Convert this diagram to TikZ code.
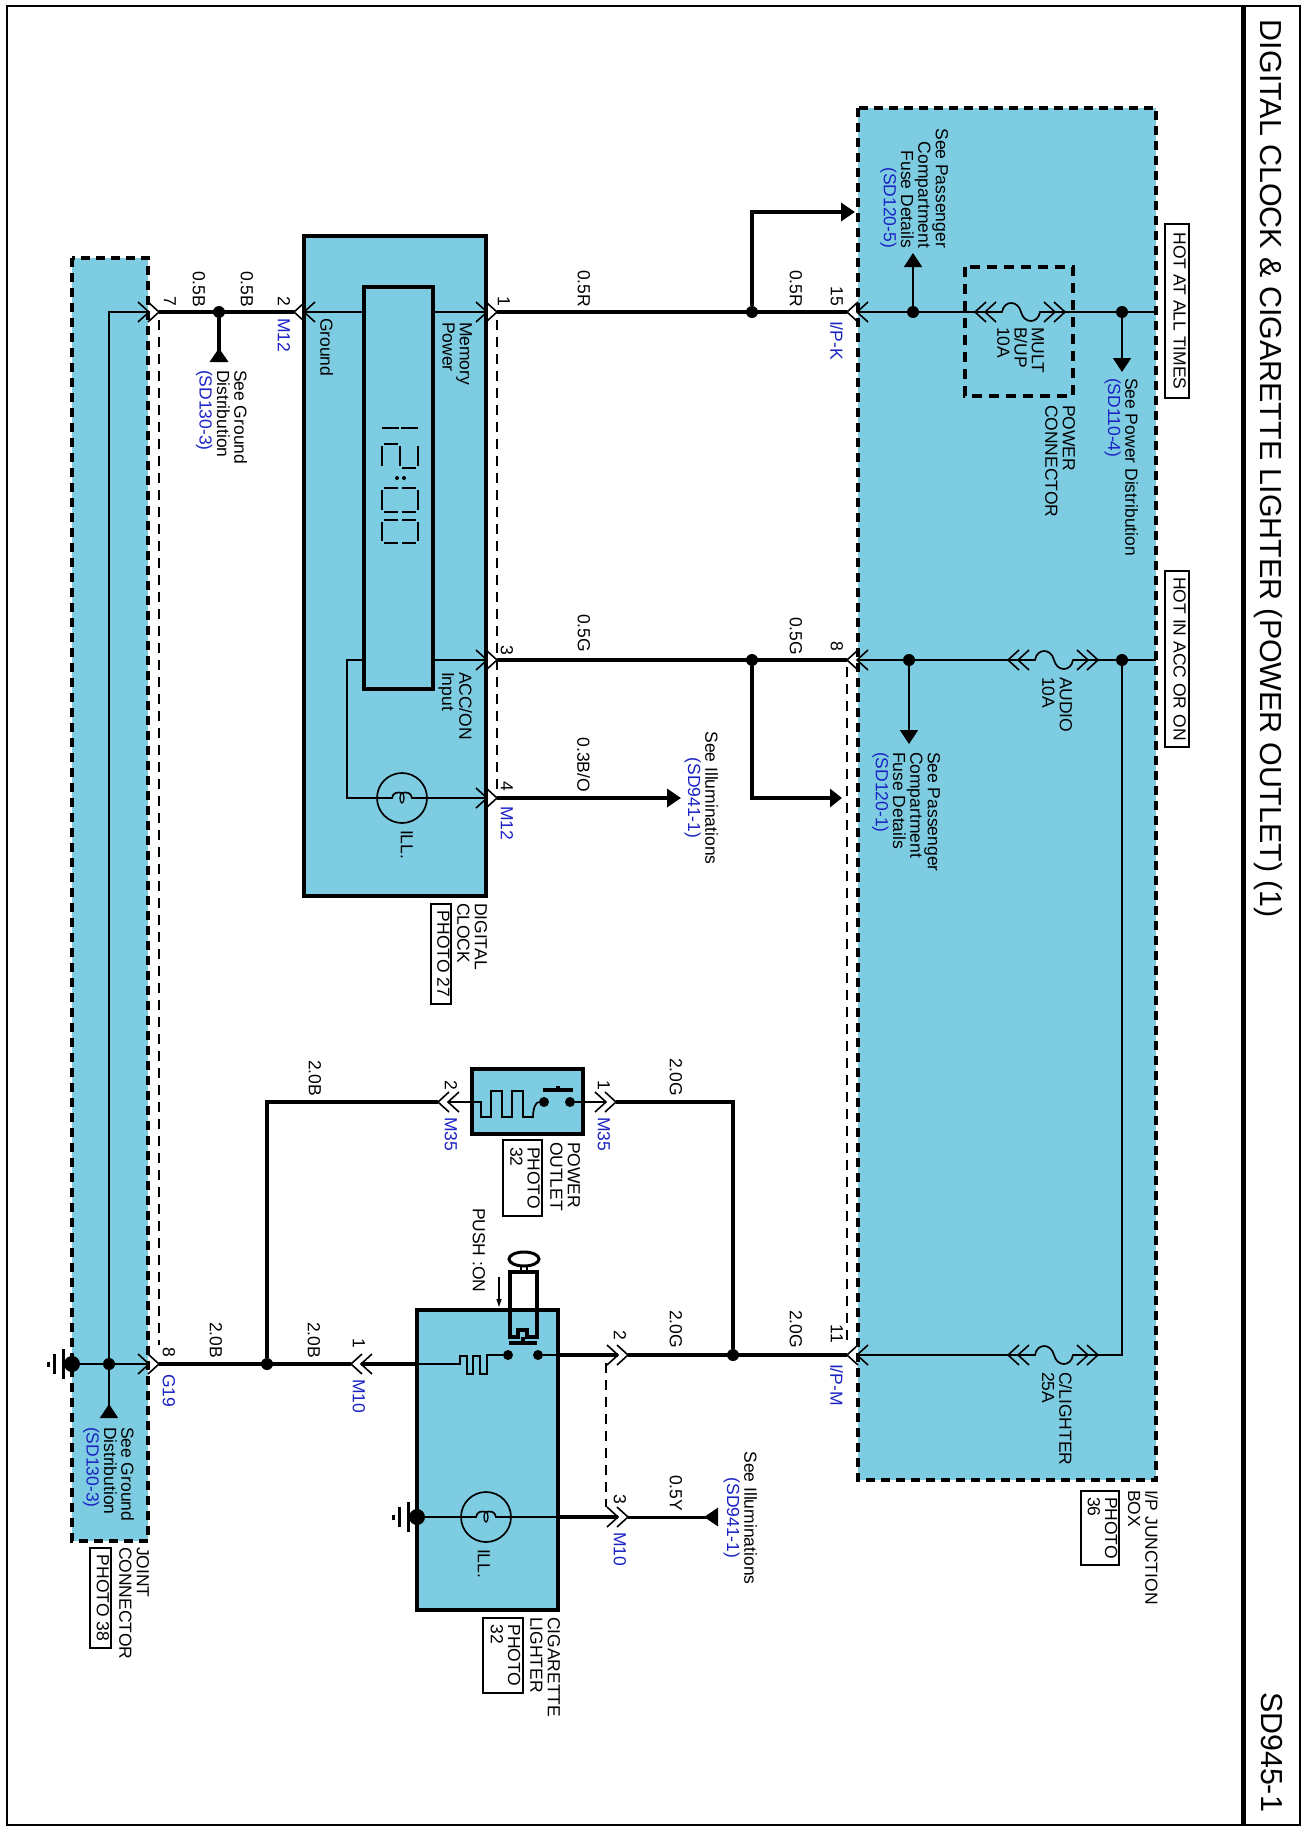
\documentclass[tikz,border=0pt]{standalone}
\usepackage{fontspec}
\setmainfont{Liberation Sans}
\usetikzlibrary{arrows.meta}

\definecolor{boxblue}{HTML}{7ECCE2}
\definecolor{refblue}{HTML}{1A22C4}
\newcommand{\sdref}[1]{\textcolor{refblue}{#1}}

\tikzset{
	wire/.style={line width=3.6pt},
	thinwire/.style={line width=1.7pt},
	pinline/.style={line width=1.6pt},
	pindash/.style={line width=1.5pt, dash pattern=on 10pt off 7pt},
	module/.style={fill=boxblue, draw=black, line width=3.3pt},
	dashmodule/.style={fill=boxblue},
	dashline/.style={draw=black, line width=3.4pt, dash pattern=on 9pt off 6pt},
	seg/.style={line width=2.4pt},
	plunger/.style={line width=3.4pt},
	hottip/.style={-{Triangle[length=14pt,width=18pt]}},
	backtip/.style={-{Triangle[reversed,length=14pt,width=18pt]}},
	jdot/.style={circle, fill=black, inner sep=0pt, minimum size=12pt},
	swdot/.style={circle, fill=black, inner sep=0pt, minimum size=10pt},
	gdot/.style={circle, fill=black, inner sep=0pt, minimum size=16pt},
	rlabel/.style={rotate=-90, inner sep=0pt, outer sep=0pt, anchor=north west, align=left,
		font=\fontsize{17.5}{17.3}\selectfont, execute at begin node=\strut},
	wirelabel/.style={rlabel, anchor=north east},
	connlabel/.style={rlabel, text=refblue},
	tagbox/.style={rlabel, draw=black, line width=1.3pt, anchor=center},
	pics/pinr/.style={code={
		\draw[pinline] (-11,-10) -- (0,0) -- (-11,10);
		\draw[pinline] (-21,-10) -- (-10,0) -- (-21,10);}},
	pics/pinl/.style={code={
		\draw[pinline] (11,-10) -- (0,0) -- (11,10);
		\draw[pinline] (21,-10) -- (10,0) -- (21,10);}},
	pics/fusebit/.style={code={
		\pic at (0,0) {pinl};
		\pic at (90,0) {pinr};
		\draw[thinwire] (0,0) -- (27,0) .. controls (29,-12) and (43,-12) .. (46,0)
			.. controls (49,12) and (63,12) .. (65,0) -- (90,0);}},
	pics/bulb/.style={code={
		\draw[thinwire] (0,0) circle (25);
		\draw[thinwire] (-25,0) -- (-10,0) .. controls (-9,-6) and (-4,-6) .. (0,-5)
			.. controls (4,-6) and (9,-6) .. (10,0) -- (25,0);
		\draw[line width=1.3pt] (0,0) ellipse (2 and 5);}},
	pics/gnd/.style={code={
		\draw[line width=3pt] (-9,-15) -- (-9,15);
		\draw[line width=3pt] (-18,-10) -- (-18,10);
		\draw[line width=3pt] (-24,-2.5) -- (-24,2.5);}},
}

\begin{document}
\begin{tikzpicture}[x=1pt,y=-1pt]
	\useasboundingbox (0,0) rectangle (1308,1833);
	\fill[white] (0,0) rectangle (1308,1833);

	% Page frame
	\draw[line width=2pt] (6.5,6) rectangle (1300,1825);
	\draw[line width=5pt] (1243,6) -- (1243,1825);
	\node[rlabel, font=\fontsize{30.4}{31}\selectfont] (title) at (1283,20) {DIGITAL CLOCK \& CIGARETTE LIGHTER (POWER OUTLET) (1)};
	\node[rlabel, anchor=north east, font=\fontsize{30.4}{31}\selectfont] (pageno) at (1283,1812) {SD945-1};

	% Module fills
	\fill[dashmodule] (858,108) rectangle (1156,1480);
	\fill[dashmodule] (72,258) rectangle (148,1541);
	\draw[module] (304,236) rectangle (486,896);
	\draw[module] (364,287) rectangle (433,689);
	\draw[module] (472,1069) rectangle (583,1134);
	\draw[module] (417,1310) rectangle (558,1610);

	% Named points
	\coordinate (pinJ7) at (159,312);
	\coordinate (pinK2) at (294,312);
	\coordinate (pinK1) at (497,312);
	\coordinate (pinK3) at (497,660);
	\coordinate (pinK4) at (497,798);
	\coordinate (pinIP15) at (847,312);
	\coordinate (pinIP8) at (847,660);
	\coordinate (pinIP11) at (847,1355);
	\coordinate (pinO2) at (438,1102);
	\coordinate (pinO1) at (616,1102);
	\coordinate (pinC1) at (351,1364);
	\coordinate (pinC2) at (628,1355);
	\coordinate (pinC3) at (628,1517);
	\coordinate (pinJ8) at (159,1364);
	\coordinate (fuseA) at (975,312);
	\coordinate (fuseAr) at (1065,312);
	\coordinate (fuseB) at (1008,660);
	\coordinate (fuseBr) at (1098,660);
	\coordinate (fuseC) at (1008,1355);
	\coordinate (fuseCr) at (1098,1355);
	\coordinate (hotA) at (1156,312);
	\coordinate (hotB) at (1156,660);
	\node[jdot] (jGnd) at (219,312) {};
	\node[jdot] (jR) at (752,312) {};
	\node[jdot] (jG) at (752,660) {};
	\node[jdot] (jPas15) at (913,312) {};
	\node[jdot] (jPas8) at (909,660) {};
	\node[jdot] (jHotA) at (1122,312) {};
	\node[jdot] (jHotB) at (1122,660) {};
	\node[jdot] (jLight) at (733,1355) {};
	\node[jdot] (jOut) at (267,1364) {};
	\node[jdot] (jBus) at (109,1364) {};
	\node[gdot] (gJoint) at (72,1364) {};
	\node[gdot] (gLight) at (417,1517) {};
	\node[swdot] (swO1) at (544,1102) {};
	\node[swdot] (swO2) at (570,1102) {};
	\node[swdot] (swC1) at (508,1355) {};
	\node[swdot] (swC2) at (538,1355) {};

	% Heavy wires
	\draw[wire] (pinJ7) -- (pinK2);
	\draw[wire] (pinK1) -- (pinIP15);
	\draw[wire] (pinK3) -- (pinIP8);
	\draw[wire, hottip] (pinK4) -- (681,798);
	\draw[wire, hottip] (jR) |- (855,212);
	\draw[wire, -{Triangle[length=12pt,width=18pt]}] (jG) |- (842,798);
	\draw[wire, backtip] (jGnd) -- (219,362);
	\draw[wire] (pinO2) -| (jOut);
	\draw[wire] (pinO1) -| (jLight);
	\draw[wire] (pinJ8) -- (pinC1);
	\draw[wire] ([xshift=10pt]pinC1) -- (417,1364);
	\draw[wire] (558,1355) -- ([xshift=-10pt]pinC2);
	\draw[wire] (pinC2) -- (pinIP11);
	\draw[wire] (558,1517) -- ([xshift=-10pt]pinC3);
	\draw[line width=3pt, backtip] (pinC3) -- (718,1517);

	% Thin wires inside the modules
	\draw[thinwire] ([xshift=-10pt]pinJ7) -- (109,312) -- (jBus);
	\draw[thinwire] (gJoint) -- ([xshift=-10pt]pinJ8);
	\draw[thinwire, backtip] (jBus) -- (109,1418);
	\draw[thinwire] ([xshift=10pt]pinK2) -- (364,312);
	\draw[thinwire] (433,312) -- ([xshift=-10pt]pinK1);
	\draw[thinwire] (433,660) -- ([xshift=-10pt]pinK3);
	\draw[thinwire] (364,660) -- (347,660) -- (347,798) -- (377,798);
	\draw[thinwire] (427,798) -- ([xshift=-10pt]pinK4);
	\draw[thinwire] ([xshift=10pt]pinIP15) -- (fuseA);
	\draw[thinwire] (fuseAr) -- (hotA);
	\draw[thinwire] ([xshift=10pt]pinIP8) -- (fuseB);
	\draw[thinwire] (fuseBr) -- (hotB);
	\draw[thinwire] ([xshift=10pt]pinIP11) -- (fuseC);
	\draw[thinwire] (jHotB) |- (fuseCr);
	\draw[thinwire, hottip] (jPas15) -- (913,253);
	\draw[thinwire, hottip] (jPas8) -- (909,744);
	\draw[thinwire, hottip] (jHotA) -- (1122,372);
	\draw[thinwire] ([xshift=10pt]pinO2) -- (472,1102) -- (481,1102) -- (481,1117) -- (491,1117) -- (491,1091) -- (502,1091) -- (502,1117)
		-- (512,1117) -- (512,1091) -- (523,1091) -- (523,1117) -- (533,1117) .. controls (533,1108) and (536,1102) .. (swO1);
	\draw[thinwire] (swO2) -- ([xshift=-10pt]pinO1);
	\draw[thinwire] (417,1364) -- (460,1364) -- (460,1356) -- (467,1356) -- (467,1374) -- (473,1374) -- (473,1356) -- (480,1356) -- (480,1374)
		-- (487,1374) -- (487,1355) -- (swC1);
	\draw[thinwire] (swC2) -- (558,1355);
	\draw[thinwire] (gLight) -- (461,1517);
	\draw[thinwire] (511,1517) -- (558,1517);

	% Connector pairs
	\foreach \pn in {pinJ7,pinK1,pinK3,pinK4,pinO1,pinC2,pinC3,pinJ8}
		\pic at (\pn) {pinr};
	\foreach \pn in {pinK2,pinIP15,pinIP8,pinIP11,pinO2,pinC1}
		\pic at (\pn) {pinl};

	% Fuses
	\pic at (fuseA) {fusebit};
	\pic at (fuseB) {fusebit};
	\pic at (fuseC) {fusebit};

	% Lamps and grounds
	\pic at (402,798) {bulb};
	\pic at (486,1517) {bulb};
	\pic at (gJoint) {gnd};
	\pic at (gLight) {gnd};

	% Shorting lines between pins
	\draw[pindash] (159,320) -- (159,1345);
	\draw[pindash] (497,320) -- (497,790);
	\draw[pindash] (847,667) -- (847,1343);
	\draw[pindash] (606,1363) -- (606,1507);

	% Dashed outlines
	\draw[dashline] (858,108) rectangle (1156,1480);
	\draw[dashline] (72,258) rectangle (148,1541);
	\draw[line width=3.4pt, dash pattern=on 10pt off 7pt] (965,267) rectangle (1073,396);

	% Clock face
	\foreach \xa/\ya/\xb/\yb in {382/428/399/428, 401/428/418/428,
		418/446/418/466, 400/446/400/466, 382/446/382/466, 402/468/416/468, 384/444/398/444}
		\draw[seg] (\xa,\ya) -- (\xb,\yb);
	\foreach \ya/\yb in {488/512, 520/543} {
		\draw[seg] (418,\ya+2) -- (418,\yb-2);
		\draw[seg] (382,\ya+2) -- (382,\yb-2);
		\draw[seg] (384,\ya) -- (398,\ya);
		\draw[seg] (402,\ya) -- (416,\ya);
		\draw[seg] (384,\yb) -- (398,\yb);
		\draw[seg] (402,\yb) -- (416,\yb);
	}
	\fill (397,478) circle (2);
	\fill (404,478) circle (2);

	% Outlet switch and heater parts
	\draw[plunger] (543,1090) -- (573,1090);
	\draw[plunger] (558,1090) -- (558,1086);

	% Lighter plunger
	\draw[plunger] (510,1337) -- (510,1272) -- (537,1272) -- (537,1337) -- (527,1337) -- (527,1330) -- (518,1330) -- (518,1337) -- cycle;
	\draw[plunger] (509,1343) -- (537,1343);
	\draw[plunger] (523,1337) -- (523,1343);
	\draw[line width=2pt] (521,1272) -- (521,1265);
	\draw[line width=2pt] (527,1272) -- (527,1265);
	\draw[line width=3pt] (524,1259) ellipse (15 and 7);
	\draw[line width=1.2pt, -{Triangle[length=8pt,width=5pt]}] (499,1277) -- (499,1307);

	% Wire sizes
	\foreach \lx/\ly/\ltxt [count=\i] in {205/307/0.5B, 253/307/0.5B, 590/307/0.5R, 802/307/0.5R, 590/652/0.5G, 802/655/0.5G,
		321/1096/2.0B, 682/1096/2.0G, 222/1358/2.0B, 320/1358/2.0B, 682/1348/2.0G, 802/1348/2.0G, 682/1511/0.5Y}
		\node[wirelabel] (size\i) at (\lx,\ly) {\ltxt};
	\node[wirelabel] (sizeIll) at (590,792) {0.3B/O};

	% Pin numbers
	\foreach \lx/\ly/\ltxt [count=\i] in {176/306/7, 290/306/2, 510/306/1, 513/655/3, 513/791/4, 843/306/15, 843/651/8, 843/1343/11,
		457/1090/2, 610/1090/1, 175/1357/8, 365/1348/1, 626/1340/2, 626/1504/3}
		\node[wirelabel] (num\i) at (\lx,\ly) {\ltxt};

	% Connector names
	\foreach \lx/\ly/\ltxt [count=\i] in {290/318/M12, 513/806/M12, 457/1117/M35, 610/1117/M35, 175/1374/G19, 365/1379/M10, 626/1532/M10}
		\node[connlabel] (conn\i) at (\lx,\ly) {\ltxt};
	\node[connlabel] (connK) at (843,321) {I/P-K};
	\node[connlabel] (connM) at (843,1364) {I/P-M};

	% Inner labels
	\node[rlabel] (lblGround) at (333,318) {Ground};
	\node[rlabel] (lblMemory) at (472,322) {Memory\\Power};
	\node[rlabel] (lblAcc) at (472,672) {ACC/ON\\Input};
	\node[rlabel] (lblIll) at (413,830) {ILL.};
	\node[rlabel] (lblIllC) at (490,1549) {ILL.};
	\node[rlabel] (lblMult) at (1044,327) {MULT\\B/UP\\10A};
	\node[rlabel] (lblAudio) at (1072,677) {AUDIO\\10A};
	\node[rlabel] (lblCl) at (1072,1372) {C/LIGHTER\\25A};
	\node[rlabel] (lblPush) at (485,1208) {PUSH :ON};

	% See references
	\node[rlabel, anchor=north east, align=right] (seeFuse5) at (948,248) {See Passenger\\Compartment\\Fuse Details\\\sdref{(SD120-5)}};
	\node[rlabel] (seeFuse1) at (940,752) {See Passenger\\Compartment\\Fuse Details\\\sdref{(SD120-1)}};
	\node[rlabel] (seePower) at (1138,378) {See Power Distribution\\\sdref{(SD110-4)}};
	\node[rlabel] (seeGnd1) at (247,370) {See Ground\\Distribution\\\sdref{(SD130-3)}};
	\node[rlabel] (seeGnd2) at (134,1427) {See Ground\\Distribution\\\sdref{(SD130-3)}};
	\node[rlabel, anchor=north, align=center] (seeIll1) at (718,798) {See Illuminations\\\sdref{(SD941-1)}};
	\node[rlabel, anchor=north, align=center] (seeIll2) at (757,1518) {See Illuminations\\\sdref{(SD941-1)}};

	% Module names
	\node[rlabel] (nameIP) at (1158,1490) {I/P JUNCTION\\BOX};
	\node[rlabel] (namePower) at (1075,405) {POWER\\CONNECTOR};
	\node[rlabel] (nameClock) at (487,903) {DIGITAL\\CLOCK};
	\node[rlabel] (nameOutlet) at (580,1142) {POWER\\OUTLET};
	\node[rlabel] (nameLighter) at (560,1617) {CIGARETTE\\LIGHTER};
	\node[rlabel] (nameJoint) at (149,1547) {JOINT\\CONNECTOR};

	% Boxed tags
	\node[tagbox, minimum width=174pt, minimum height=24pt] (tagHotA) at (1177,311) {HOT AT ALL TIMES};
	\node[tagbox, minimum width=176pt, minimum height=24pt] (tagHotB) at (1177,659) {HOT IN ACC OR ON};
	\node[tagbox, minimum width=74pt, minimum height=38pt] (tagIP) at (1100,1528) {PHOTO\\36};
	\node[tagbox, minimum width=100pt, minimum height=20pt] (tagClock) at (441,954) {PHOTO 27};
	\node[tagbox, minimum width=76pt, minimum height=39pt] (tagOutlet) at (522.5,1178) {PHOTO\\32};
	\node[tagbox, minimum width=75pt, minimum height=40pt] (tagLighter) at (503,1655.5) {PHOTO\\32};
	\node[tagbox, minimum width=100pt, minimum height=21pt] (tagJoint) at (100.5,1598) {PHOTO 38};
\end{tikzpicture}
\end{document}
